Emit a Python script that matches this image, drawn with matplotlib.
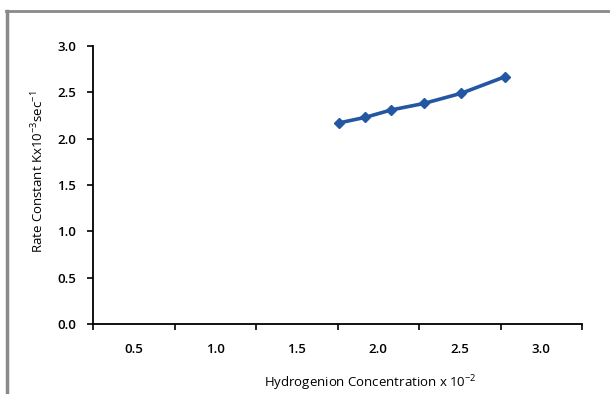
import matplotlib
matplotlib.use("Agg")
import matplotlib.pyplot as plt
from matplotlib.lines import Line2D
from matplotlib.ticker import FixedLocator, NullFormatter

plt.rcParams['font.family'] = ['Open Sans', 'DejaVu Sans']
plt.rcParams['mathtext.fontset'] = 'custom'
plt.rcParams['mathtext.rm'] = 'Open Sans'
plt.rcParams['mathtext.it'] = 'Open Sans'
plt.rcParams['axes.unicode_minus'] = False

# Data
h_conc = [1.76, 1.92, 2.08, 2.28, 2.51, 2.78]
rate_k = [2.17, 2.23, 2.31, 2.38, 2.49, 2.67]
x_tick_labels = ['0.5', '1.0', '1.5', '2.0', '2.5', '3.0']
x_label_pos = [0.5, 1.0, 1.5, 2.0, 2.5, 3.0]
y_ticks = [0.0, 0.5, 1.0, 1.5, 2.0, 2.5, 3.0]

W, H = 610, 394
fig = plt.figure(figsize=(W / 100, H / 100), dpi=100)
ax = fig.add_axes([93 / W, (H - 324) / H, (582 - 93) / W, (324 - 46) / H])

ax.plot(h_conc, rate_k, color='#2356a3', lw=2.6, marker='D', ms=5,
        mec='#2356a3', mfc='#2356a3', solid_capstyle='round')

ax.set_xlim(0.25, 3.25)
ax.set_ylim(0, 3.0)

# major ticks at category boundaries (no labels), labels at centres (no marks)
ax.xaxis.set_major_locator(FixedLocator([0.25 + 0.5 * i for i in range(7)]))
ax.xaxis.set_major_formatter(NullFormatter())
ax.xaxis.set_minor_locator(FixedLocator(x_label_pos))
ax.set_xticklabels(x_tick_labels, minor=True)
ax.tick_params(axis='x', which='major', direction='out', length=4, width=1.2, color='black')
ax.tick_params(axis='x', which='minor', length=0, pad=14, labelsize=9.5)
for lbl in ax.get_xticklabels(minor=True):
    lbl.set_fontweight('semibold')

ax.set_yticks(y_ticks)
ax.set_yticklabels([f'{v:.1f}' for v in y_ticks])
ax.tick_params(axis='y', direction='out', length=4, width=1.2, pad=8, labelsize=9.5)
for lbl in ax.get_yticklabels():
    lbl.set_fontweight('semibold')

for s in ['top', 'right']:
    ax.spines[s].set_visible(False)
for s in ['left', 'bottom']:
    ax.spines[s].set_linewidth(1.3)
    ax.spines[s].set_color('black')

ax.set_xlabel(r'Hydrogenion Concentration x 10$^{\mathregular{-2}}$', fontsize=9.5, labelpad=12)
ax.xaxis.label.set_x((370 - 93) / 489)
ax.set_ylabel(r'Rate Constant Kx10$^{\mathregular{-3}}$sec$^{\mathregular{-1}}$', fontsize=9.5, labelpad=8)
ax.yaxis.label.set_y((324 - 172) / 278)

# outer frame (top and left borders)
def px(x, y):
    return (x / W, 1 - y / H)

fig.add_artist(Line2D([px(6, 11)[0], px(610, 11)[0]], [px(6, 11)[1], px(610, 11)[1]],
                      transform=fig.transFigure, color='#8a8a8a', lw=2))
fig.add_artist(Line2D([px(7, 11)[0], px(7, 394)[0]], [px(7, 11)[1], px(7, 394)[1]],
                      transform=fig.transFigure, color='#8a8a8a', lw=2.5))

fig.savefig('out.png', dpi=100)
